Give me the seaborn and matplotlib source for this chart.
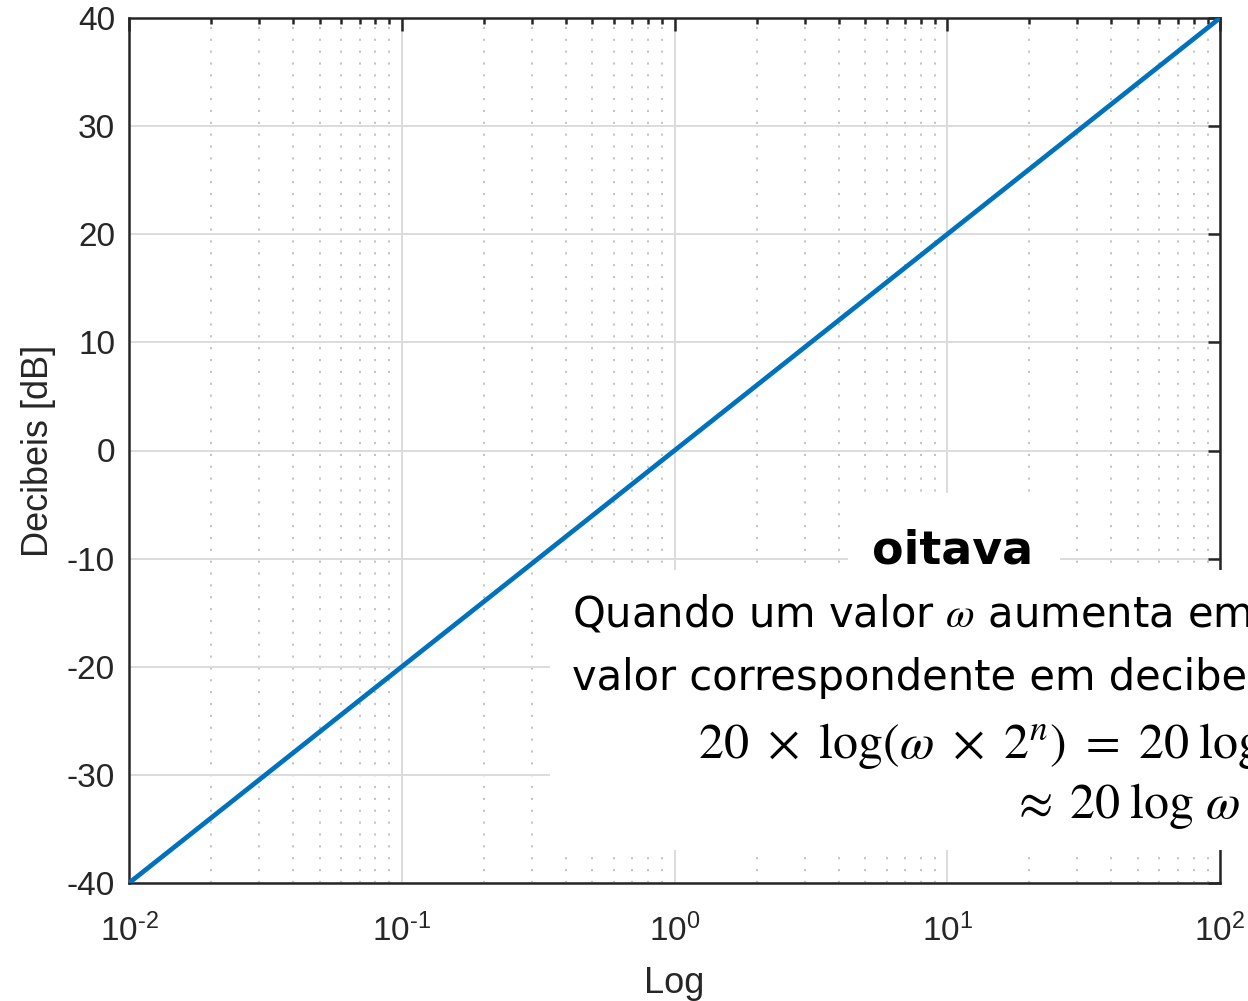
import numpy as np
import matplotlib
matplotlib.use("Agg")
import matplotlib.pyplot as plt
from matplotlib.patches import Rectangle
from matplotlib.ticker import LogLocator, FixedLocator, FixedFormatter
import seaborn as sns

# Decade points of the magnitude curve (straight line on a log axis)
omega = [0.01, 0.1, 1.0, 10.0, 100.0]
decibeis = [-40, -20, 0, 20, 40]

y_ticks = [-40, -30, -20, -10, 0, 10, 20, 30, 40]
y_tick_labels = ["-40", "-30", "-20", "-10", "0", "10", "20", "30", "40"]
x_ticks = [1e-2, 1e-1, 1e0, 1e1, 1e2]
x_tick_labels = [r"$10^{\text{-2}}$", r"$10^{\text{-1}}$", r"$10^{0}$",
                 r"$10^{1}$", r"$10^{2}$"]

sns.set_theme(style="white")
plt.rcParams["font.family"] = ["Liberation Sans", "DejaVu Sans"]
plt.rcParams["mathtext.fontset"] = "custom"
plt.rcParams["mathtext.rm"] = "Liberation Sans"
plt.rcParams["mathtext.it"] = "Liberation Sans:italic"
plt.rcParams["mathtext.bf"] = "Liberation Sans:bold"
plt.rcParams["axes.unicode_minus"] = False

W, H = 1248, 1001
fig = plt.figure(figsize=(W / 100, H / 100), dpi=100)
ax = fig.add_axes([129 / W, 1 - 883 / H, (1220 - 129) / W, (883 - 18) / H])

ink = "#262626"
sns.lineplot(x=omega, y=decibeis, ax=ax, color="#0072BD", linewidth=3.4, zorder=3)

ax.set_xscale("log")
ax.set_xlim(1e-2, 1e2)
ax.set_ylim(-40, 40)

ax.xaxis.set_major_locator(FixedLocator(x_ticks))
ax.xaxis.set_major_formatter(FixedFormatter(x_tick_labels))
ax.xaxis.set_minor_locator(LogLocator(base=10, subs=np.arange(2, 10), numticks=20))
ax.xaxis.set_minor_formatter(FixedFormatter([]))
ax.yaxis.set_major_locator(FixedLocator(y_ticks))
ax.yaxis.set_major_formatter(FixedFormatter(y_tick_labels))

ax.tick_params(which="both", direction="in", top=True, right=True, colors=ink,
               labelcolor=ink, labelsize=24, width=1.8)
ax.tick_params(which="major", length=9)
ax.tick_params(which="minor", length=4.5)
ax.tick_params(axis="x", which="major", pad=22)
ax.tick_params(axis="y", which="major", pad=10)

for s in ax.spines.values():
    s.set_color(ink)
    s.set_linewidth(1.8)

ax.grid(True, which="major", color="#dcdcdc", linewidth=1.4, linestyle="-", zorder=0)
ax.grid(True, which="minor", axis="x", color="#c4c4c4", linewidth=1.4,
        linestyle=(0, (1.1, 5)), zorder=0)
ax.set_axisbelow(True)

ax.set_xlabel("Log", fontsize=26, color=ink, labelpad=13)
ax.set_ylabel("Decibeis [dB]", fontsize=26, color=ink, labelpad=8)

# White panels carrying the explanatory note
for (x0, y0, x1, y1) in [(848, 493, 1060, 570), (550, 570, W + 5, 850)]:
    fig.add_artist(Rectangle((x0 / W, 1 - y1 / H), (x1 - x0) / W, (y1 - y0) / H,
                             transform=fig.transFigure, facecolor="white",
                             edgecolor="none", zorder=10))

note_font = ["DejaVu Sans"]
fig.text(953 / W, 1 - 563 / H, "oitava", ha="center", va="baseline", fontsize=33,
         fontweight="bold", family=note_font, color="black", zorder=11)
fig.text(572 / W, 1 - 627 / H, r"Quando um valor $\omega$ aumenta em $n$ oitavas, o",
         ha="left", va="baseline", fontsize=30, family=note_font, math_fontfamily="stix",
         color="black", zorder=11)
fig.text(572 / W, 1 - 690 / H, "valor correspondente em decibeis aumenta",
         ha="left", va="baseline", fontsize=30, family=note_font, color="black", zorder=11)
fig.text(698 / W, 1 - 758 / H,
         r"$20\ \times\ \log(\omega\ \times\ 2^{n})\ =\ 20\;\log\,\omega\ +\ 20\,n\,\log 2$",
         ha="left", va="baseline", fontsize=36, math_fontfamily="stix",
         color="black", zorder=11)
fig.text(1011 / W, 1 - 818 / H, r"$\approx\;20\;\log\,\omega\;+\;6n$",
         ha="left", va="baseline", fontsize=36, math_fontfamily="stix",
         color="black", zorder=11)

fig.savefig("out.png", dpi=100)
